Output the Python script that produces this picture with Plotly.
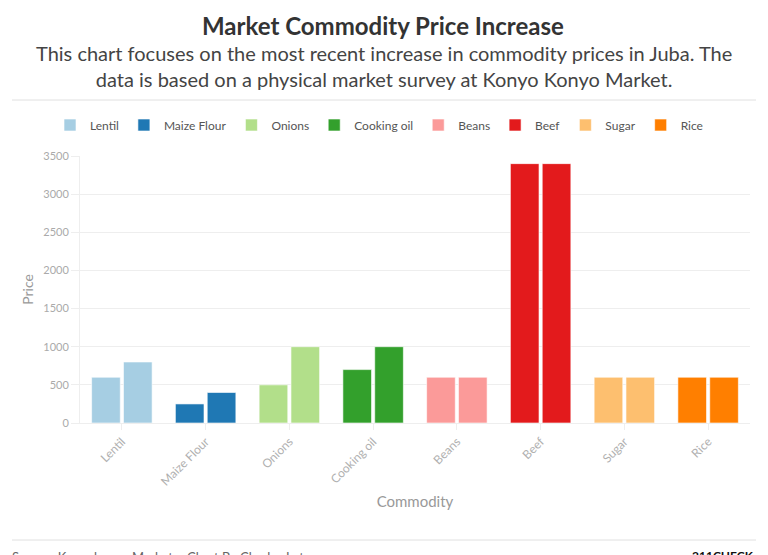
import plotly.graph_objects as go

categories = ["Lentil", "Maize Flour", "Onions", "Cooking oil", "Beans", "Beef", "Sugar", "Rice"]
previous_price = [600, 250, 500, 700, 600, 3400, 600, 600]
current_price = [800, 400, 1000, 1000, 600, 3400, 600, 600]
colors = ["#a6cee3", "#1f78b4", "#b2df8a", "#33a02c", "#fb9a99", "#e31a1c", "#fdbf6f", "#ff7f00"]
y_ticks = [0, 500, 1000, 1500, 2000, 2500, 3000, 3500]

FONT = "Lato"
OFF = 8  # default page body margin
W, H = 768 - OFF, 555 - OFF
ML, MR, MT, MB = 80 - OFF, 18, 156 - OFF, 132
PW = W - ML - MR
PH = H - MT - MB


def py(pix):
    """Page pixel row -> paper y."""
    return (MT + PH - (pix - OFF)) / PH


def px(pix):
    """Page pixel column -> paper x."""
    return (pix - OFF - ML) / PW


fig = go.Figure()
for cat, p0, p1, col in zip(categories, previous_price, current_price, colors):
    fig.add_trace(go.Bar(x=[cat], y=[p0], name=cat, legendgroup=cat, offsetgroup="a",
                         marker=dict(color=col, line=dict(color="rgba(255,255,255,0.6)", width=1)),
                         showlegend=True))
    fig.add_trace(go.Bar(x=[cat], y=[p1], name=cat, legendgroup=cat, offsetgroup="b",
                         marker=dict(color=col, line=dict(color="rgba(255,255,255,0.6)", width=1)),
                         showlegend=False))

fig.update_layout(
    width=W, height=H,
    paper_bgcolor="white", plot_bgcolor="white",
    margin=dict(l=ML, r=MR, t=MT, b=MB, autoexpand=False),
    barmode="group", bargap=0.24, bargroupgap=0.1,
    font=dict(family=FONT, color="#999999", size=12),
    legend=dict(orientation="h", xref="container", yref="container",
                x=(379 - OFF) / W, xanchor="center", y=1 - (125 - OFF) / H, yanchor="middle",
                font=dict(family=FONT, size=12, color="#555555"),
                itemwidth=30, tracegroupgap=0, traceorder="normal"),
    xaxis=dict(
        categoryorder="array", categoryarray=categories,
        tickangle=-45, tickfont=dict(size=12, color="#b0b0b0"),
        showgrid=False, showline=True, linecolor="#eeeeee",
        ticks="outside", ticklen=6, tickcolor="#eeeeee", automargin=False,
        title=dict(text="Commodity", font=dict(size=15, color="#999999"), standoff=8),
    ),
    yaxis=dict(
        range=[0, 3500], tickvals=y_ticks,
        tickfont=dict(size=11, color="#aaaaaa"),
        gridcolor="#eeeeee", zeroline=False,
        showline=True, linecolor="#eeeeee",
        ticks="outside", ticklen=8, tickcolor="#eeeeee", automargin=False,
        title=dict(text="Price", font=dict(size=14, color="#999999"), standoff=6),
    ),
    showlegend=True,
)

fig.add_annotation(
    text="<b>Market Commodity Price Increase</b>",
    xref="paper", yref="paper", x=px(383), xanchor="center", y=py(26), yanchor="middle",
    showarrow=False, font=dict(family=FONT, size=24, color="#333333"),
)
fig.add_annotation(
    text="This chart focuses on the most recent increase in commodity prices in Juba. The<br>data is based on a physical market survey at Konyo Konyo Market.",
    xref="paper", yref="paper", x=px(384), xanchor="center",
    y=py(66), yanchor="middle", showarrow=False, align="center",
    font=dict(family=FONT, size=20, color="#444444"),
)
fig.add_shape(type="line", xref="paper", yref="paper", x0=px(12), x1=px(756), y0=py(100), y1=py(100),
              line=dict(color="#e0e0e0", width=1))
fig.add_shape(type="line", xref="paper", yref="paper", x0=px(12), x1=px(756), y0=py(540), y1=py(540),
              line=dict(color="#e0e0e0", width=1))
fig.add_annotation(
    text="Source: Konyokonyo Market • Chart By Charles Lat",
    xref="paper", yref="paper", x=px(10), xanchor="left", y=py(547), yanchor="top",
    showarrow=False, font=dict(family=FONT, size=13, color="#666666"),
)
fig.add_annotation(
    text="<b>211CHECK</b>",
    xref="paper", yref="paper", x=px(756), xanchor="right", y=py(546), yanchor="top",
    showarrow=False, font=dict(family=FONT, size=12, color="#111111"),
)

fig.write_html("out.html")
